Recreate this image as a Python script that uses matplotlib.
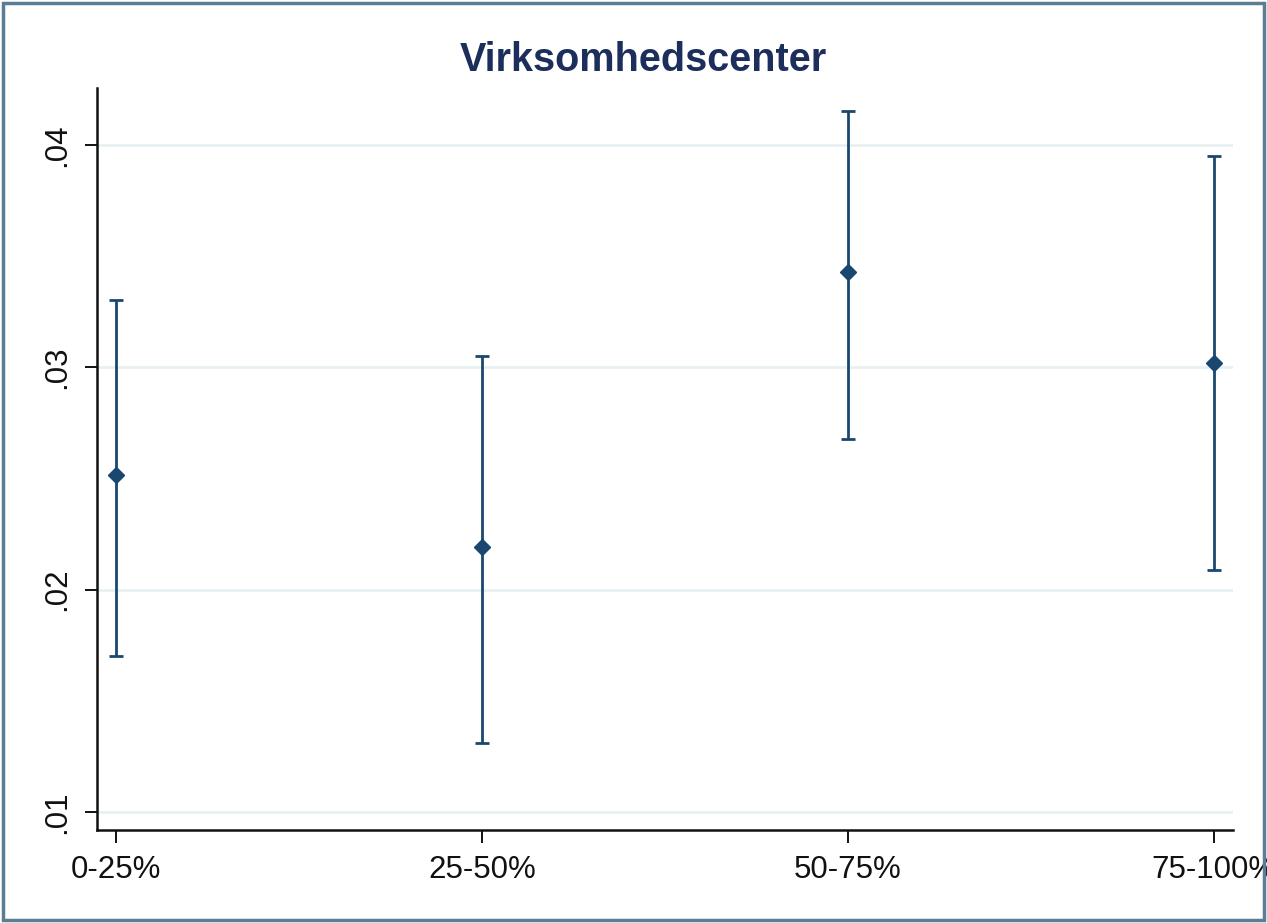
import matplotlib.pyplot as plt
import matplotlib.patches as patches

# Estimates with 95% confidence bounds, by group
groups = ['0-25%', '25-50%', '50-75%', '75-100%']
estimates = [0.02516, 0.02192, 0.03429, 0.03019]
lower = [0.01701, 0.01310, 0.02677, 0.02088]
upper = [0.03303, 0.03051, 0.04153, 0.03951]
yticks = [0.01, 0.02, 0.03, 0.04]
ytick_labels = ['.01', '.02', '.03', '.04']

navy = '#1a476f'

plt.rcParams['font.family'] = ['Liberation Sans', 'DejaVu Sans']

fig = plt.figure(figsize=(12.67, 9.23), dpi=100)
ax = fig.add_axes([97 / 1267, 1 - 830 / 923, (1233 - 97) / 1267, (830 - 88) / 923])

xs = list(range(1, len(groups) + 1))
yerr = [[e - l for e, l in zip(estimates, lower)],
        [u - e for e, u in zip(estimates, upper)]]

ax.errorbar(xs, estimates, yerr=yerr, fmt='D', color=navy, ecolor=navy,
            elinewidth=2.0, capsize=5, capthick=2.0, markersize=8, zorder=3)

ax.set_xlim(1 - 19 / 366, 4 + 19 / 366)
ax.set_ylim(0.01 - 18 / 22230, 0.04 + 57 / 22230)

ax.set_xticks(xs)
ax.set_xticklabels(groups)
ax.set_yticks(yticks)
ax.set_yticklabels(ytick_labels, rotation=90, va='center')

ax.grid(axis='y', color='#e6eff1', linewidth=1.8, zorder=0)
ax.set_axisbelow(True)

for side in ['top', 'right']:
    ax.spines[side].set_visible(False)
for side in ['left', 'bottom']:
    ax.spines[side].set_linewidth(1.8)
    ax.spines[side].set_color('#111111')

ax.tick_params(axis='both', length=9, width=1.4, labelsize=22.5, colors='#111111',
               pad=9)

fig.text(643 / 1267, 1 - 60 / 923, 'Virksomhedscenter', ha='center', va='center',
         fontsize=28.5, fontweight='bold', color='#1c2e5c')

# outer frame
fig.patches.append(patches.Rectangle((3 / 1267, 3 / 923), 1261 / 1267, 917 / 923,
                                     transform=fig.transFigure, fill=False,
                                     edgecolor='#5b7d94', linewidth=2.5))

fig.savefig('out.png', dpi=100)
